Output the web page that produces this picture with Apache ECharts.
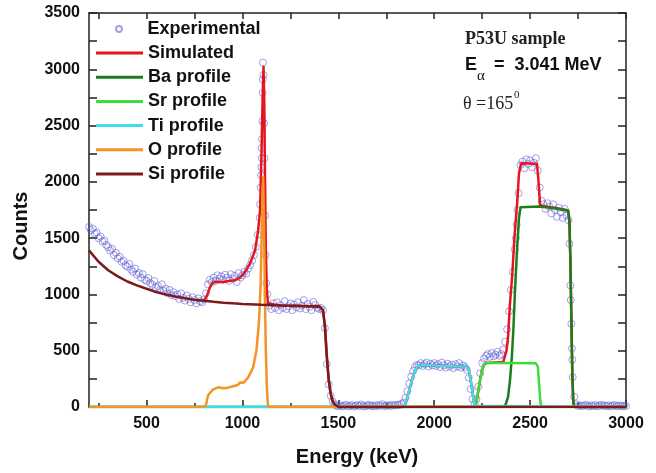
<!DOCTYPE html>
<html lang="en">
<head>
<meta charset="UTF-8">
<title>P53U sample spectrum</title>
<style>
  html, body { margin: 0; padding: 0; background: #fff; }
  #chart { width: 656px; height: 473px; }
</style>
</head>
<body>
<div id="chart"></div>
<script src="https://cdn.jsdelivr.net/npm/echarts@6/dist/echarts.min.js"></script>
<script>
// measured spectrum, one reading every 10 keV from 200 to 3000 keV
const expStart = 200;
const expStep = 10;
const expCounts = [
  1600, 1570, 1585, 1540, 1550, 1500, 1515, 1470, 1480, 1440,
  1420, 1390, 1405, 1350, 1370, 1320, 1335, 1290, 1300, 1260,
  1245, 1270, 1220, 1200, 1230, 1175, 1190, 1150, 1180, 1130,
  1120, 1145, 1100, 1085, 1120, 1060, 1075, 1040, 1090, 1030,
  1050, 1010, 1040, 995, 1020, 985, 1000, 960, 1010, 970,
  945, 990, 960, 930, 975, 950, 920, 965, 940, 930,
  955, 1010, 1090, 1130, 1110, 1150, 1120, 1170, 1140, 1160,
  1130, 1175, 1150, 1120, 1180, 1140, 1165, 1110, 1190, 1150,
  1170, 1200, 1185, 1230, 1260, 1300, 1350, 1420, 1530, 1680,
  2300, 2950, 1350, 1000, 900, 870, 920, 880, 930, 860,
  905, 880, 940, 870, 895, 920, 860, 910, 885, 930,
  875, 900, 950, 870, 915, 890, 860, 935, 905, 880,
  870, 880, 860, 700, 380, 200, 100, 50, 25, 10,
  8, 15, 5, 12, 20, 6, 10, 18, 4, 12,
  15, 8, 22, 10, 5, 14, 20, 8, 12, 6,
  18, 10, 14, 25, 8, 12, 16, 9, 20, 12,
  15, 22, 18, 28, 40, 80, 140, 210, 270, 320,
  355, 375, 370, 390, 365, 380, 395, 360, 385, 370,
  390, 365, 380, 355, 395, 370, 350, 385, 360, 375,
  345, 380, 360, 390, 350, 370, 355, 330, 260, 160,
  70, 25, 70, 180, 300, 390, 430, 455, 470, 445,
  480, 450, 465, 490, 455, 470, 510, 580, 690, 850,
  1040, 1200, 1400, 1620, 1900, 2150, 2180, 2120, 2200, 2160,
  2190, 2130, 2170, 2210, 2100, 1950, 1830, 1800, 1760, 1810,
  1780, 1720, 1800, 1750, 1690, 1770, 1730, 1680, 1760, 1700,
  1660, 1080, 420, 90, 25, 10, 15, 8, 12, 20,
  10, 5, 15, 8, 18, 6, 12, 20, 9, 14,
  8, 15, 5, 12, 18, 7, 10, 14, 6, 11,
  9
];
// extra readings crowded on the steep edges (O peak, Ba front and back)
const expExtra = [
  [1092, 1800], [1095, 1950], [1097, 2060], [1099, 2130], [1101, 2210],
  [1102, 2380], [1104, 2540], [1105, 2790], [1106, 2910], [1107, 3060],
  [1113, 2520], [1115, 2210], [1118, 1700], [1124, 1100],
  [2426, 1500], [2434, 1750],
  [2705, 1450], [2712, 950], [2715, 740], [2718, 520], [2722, 265]
];

const simulated = [
  [800, 943], [815, 990], [830, 1060], [846, 1107], [870, 1112], [900, 1110],
  [930, 1120], [960, 1125], [987, 1150], [1010, 1190], [1040, 1276], [1066, 1391],
  [1082, 1568], [1092, 1746], [1100, 2300], [1106, 2800], [1110, 3030], [1114, 2700],
  [1118, 2000], [1122, 1400], [1127, 1050], [1133, 920], [1140, 905], [1200, 902],
  [1300, 898], [1400, 893], [1410, 888], [1420, 860], [1430, 720], [1440, 450],
  [1450, 240], [1460, 120], [1470, 55], [1480, 22], [1490, 8], [1500, 2], [1520, 0],
  [1840, 0], [1850, 30], [1862, 100], [1874, 175], [1887, 260], [1900, 325], [1916, 365],
  [1940, 372], [2000, 368], [2100, 362], [2170, 358], [2180, 330], [2190, 240],
  [2198, 150], [2205, 70], [2213, 10], [2222, 60], [2235, 200], [2248, 320],
  [2260, 380], [2275, 390], [2360, 400], [2369, 415], [2377, 500], [2385, 620],
  [2395, 920], [2406, 1150], [2420, 1550], [2432, 1800], [2442, 2075], [2453, 2165],
  [2536, 2160], [2544, 2000], [2552, 1790], [2650, 1762], [2698, 1746], [2705, 1650],
  [2710, 1300], [2715, 800], [2720, 300], [2725, 50], [2730, 0], [3000, 0]
];
const baProfile = [
  [200, 0], [2360, 0], [2372, 20], [2385, 90], [2395, 235], [2405, 450], [2413, 700],
  [2422, 1063], [2432, 1400], [2442, 1680], [2450, 1775], [2458, 1792], [2550, 1780],
  [2650, 1762], [2698, 1746], [2705, 1650], [2710, 1300], [2715, 800], [2720, 300],
  [2725, 50], [2730, 0], [3000, 0]
];
const srProfile = [
  [200, 0], [2210, 0], [2222, 60], [2235, 200], [2248, 320], [2260, 380], [2275, 390],
  [2400, 390], [2530, 388], [2540, 360], [2547, 200], [2553, 60], [2558, 0], [3000, 0]
];
const tiProfile = [
  [200, 0], [1840, 0], [1850, 30], [1862, 100], [1874, 175], [1887, 260], [1900, 325],
  [1916, 365], [1940, 372], [2000, 368], [2100, 362], [2170, 358], [2180, 330],
  [2190, 240], [2198, 150], [2205, 70], [2212, 10], [2215, 0], [3000, 0]
];
const oProfile = [
  [200, 0], [800, 0], [810, 20], [821, 104], [847, 157], [873, 175], [899, 166],
  [925, 172], [951, 184], [975, 195], [987, 218], [1005, 215], [1030, 263], [1056, 353],
  [1073, 503], [1087, 770], [1095, 1100], [1100, 1500], [1105, 1900], [1108, 2050],
  [1112, 1700], [1117, 1000], [1122, 500], [1128, 150], [1133, 20], [1136, 0], [3000, 0]
];
const siProfile = [
  [200, 1391], [250, 1290], [300, 1215], [350, 1160], [400, 1115], [450, 1080],
  [500, 1050], [550, 1022], [600, 1000], [650, 982], [700, 966], [750, 953], [800, 943],
  [850, 934], [900, 927], [950, 921], [1000, 916], [1100, 908], [1200, 902], [1300, 898],
  [1400, 893], [1410, 888], [1420, 860], [1430, 720], [1440, 450], [1450, 240],
  [1460, 120], [1470, 55], [1480, 22], [1490, 8], [1500, 2], [1520, 0], [3000, 0]
];

const xLabelValues = [500, 1000, 1500, 2000, 2500, 3000];
const xMinorValues = [250, 750, 1250, 1750, 2250, 2750];
const xAllTicks = [250, 500, 750, 1000, 1250, 1500, 1750, 2000, 2250, 2500, 2750, 3000];

const frame = { color: '#222', width: 1.5 };
const sans = '"Liberation Sans", Arial, sans-serif';
const serif = '"Liberation Serif", "Times New Roman", serif';
const legendText = { fontFamily: sans, fontWeight: 'bold', fontSize: 18, color: '#111', lineHeight: 18 };

const chart = echarts.init(document.getElementById('chart'));

const expData = expCounts.map((c, i) => [expStart + i * expStep, c]).concat(expExtra);

function profile(name, data, color, width) {
  return {
    name: name,
    type: 'line',
    data: data,
    symbol: 'none',
    lineStyle: { color: color, width: width },
    itemStyle: { color: color }
  };
}

chart.setOption({
  animation: false,
  grid: { left: 89, right: 30, top: 13, bottom: 66 },
  legend: [
    {
      data: [{ name: 'Experimental', icon: 'circle' }],
      orient: 'vertical', left: 115, top: 20, padding: 0,
      itemWidth: 47, itemHeight: 6, itemGap: 6,
      textStyle: legendText,
      selectedMode: false
    },
    {
      data: ['Simulated', 'Ba profile', 'Sr profile', 'Ti profile', 'O profile', 'Si profile']
        .map(n => ({ name: n, icon: 'rect' })),
      orient: 'vertical', left: 96, top: 44, padding: 0,
      itemWidth: 47, itemHeight: 3, itemGap: 6.2,
      textStyle: legendText,
      selectedMode: false
    }
  ],
  xAxis: [
    {
      type: 'value', min: 200, max: 3000, position: 'bottom',
      axisLine: { show: true, onZero: false, lineStyle: frame },
      axisTick: { show: true, inside: true, length: 7, customValues: xLabelValues, lineStyle: frame },
      axisLabel: { customValues: xLabelValues, formatter: v => String(v),
        fontFamily: sans, fontWeight: 'bold', fontSize: 16, color: '#111', margin: 9 },
      splitLine: { show: false }
    },
    {
      type: 'value', min: 200, max: 3000, position: 'bottom',
      axisLine: { show: false, onZero: false },
      axisTick: { show: true, inside: true, length: 4, customValues: xMinorValues, lineStyle: frame },
      axisLabel: { show: false },
      splitLine: { show: false }
    },
    {
      type: 'value', min: 200, max: 3000, position: 'top',
      axisLine: { show: true, onZero: false, lineStyle: frame },
      axisTick: { show: true, inside: true, length: 6, customValues: xAllTicks, lineStyle: frame },
      axisLabel: { show: false },
      splitLine: { show: false }
    }
  ],
  yAxis: [
    {
      type: 'value', min: 0, max: 3500, interval: 500, position: 'left',
      axisLine: { show: true, onZero: false, lineStyle: frame },
      axisTick: { show: true, inside: true, length: 8, lineStyle: frame },
      minorTick: { show: true, splitNumber: 2, length: 8, lineStyle: frame },
      axisLabel: { formatter: v => String(v),
        fontFamily: sans, fontWeight: 'bold', fontSize: 16, color: '#111', margin: 9 },
      splitLine: { show: false }
    },
    {
      type: 'value', min: 0, max: 3500, interval: 500, position: 'right',
      axisLine: { show: true, onZero: false, lineStyle: frame },
      axisTick: { show: true, inside: true, length: 8, lineStyle: frame },
      minorTick: { show: true, splitNumber: 2, length: 8, lineStyle: frame },
      axisLabel: { show: false },
      splitLine: { show: false }
    }
  ],
  series: [
    {
      name: 'Experimental',
      type: 'scatter',
      data: expData,
      symbol: 'circle',
      symbolSize: 7,
      itemStyle: { color: 'rgba(255,255,255,0)', borderColor: 'rgba(90,90,210,0.7)', borderWidth: 1 }
    },
    profile('Simulated', simulated, '#e6141c', 2.5),
    profile('Ba profile', baProfile, '#1b7d1b', 2.5),
    profile('Sr profile', srProfile, '#3ddc3d', 2.5),
    profile('Ti profile', tiProfile, '#3fdcec', 2.5),
    profile('O profile', oProfile, '#f29426', 2.5),
    profile('Si profile', siProfile, '#7b1c1c', 2.5)
  ],
  graphic: [
    { type: 'text', x: 21, y: 226, rotation: Math.PI / 2,
      style: { text: 'Counts', font: 'bold 20px ' + sans, fill: '#111', align: 'center', verticalAlign: 'middle' } },
    { type: 'text', x: 357, y: 457,
      style: { text: 'Energy (keV)', font: 'bold 20px ' + sans, fill: '#111', align: 'center', verticalAlign: 'middle' } },
    { type: 'text', x: 465, y: 39,
      style: { text: 'P53U sample', font: 'bold 18px ' + serif, fill: '#222', verticalAlign: 'middle' } },
    { type: 'text', x: 465, y: 65,
      style: { text: 'E', font: 'bold 18px ' + sans, fill: '#111', verticalAlign: 'middle' } },
    { type: 'text', x: 477, y: 76,
      style: { text: 'α', font: '15px ' + serif, fill: '#111', verticalAlign: 'middle' } },
    { type: 'text', x: 494, y: 65,
      style: { text: '=  3.041 MeV', font: 'bold 18px ' + sans, fill: '#111', verticalAlign: 'middle' } },
    { type: 'text', x: 463, y: 104,
      style: { text: 'θ =165', font: '18px ' + serif, fill: '#222', verticalAlign: 'middle' } },
    { type: 'text', x: 514, y: 95,
      style: { text: '0', font: '11px ' + serif, fill: '#222', verticalAlign: 'middle' } }
  ]
});
</script>
</body>
</html>
